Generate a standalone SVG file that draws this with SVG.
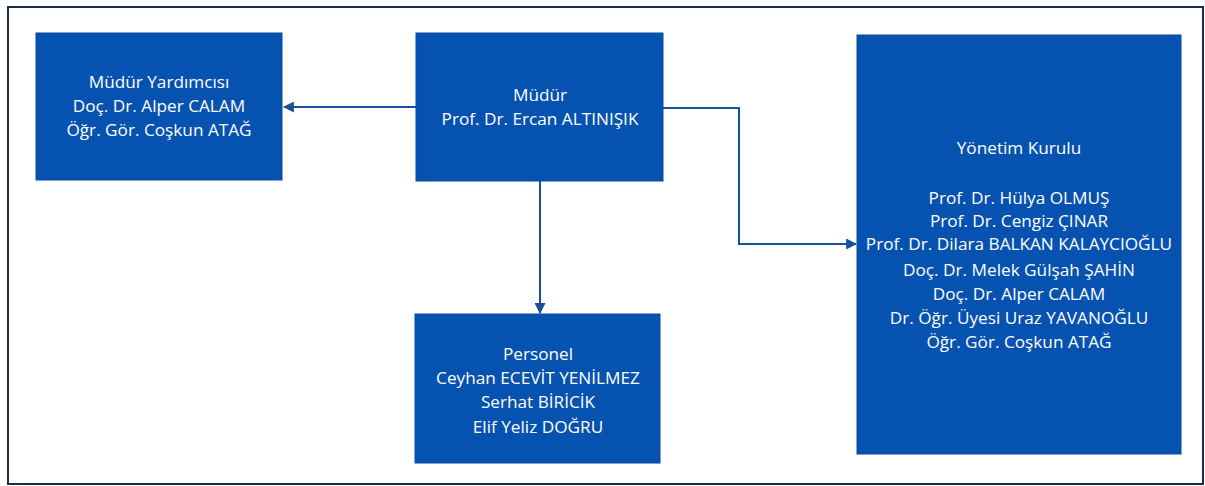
<svg xmlns="http://www.w3.org/2000/svg" width="1205" height="486" viewBox="0 0 1205 486">
<defs>
<style>
.box{fill:#0652B0;stroke:#0a4a9e;stroke-width:1}
.t{font-family:"Open Sans","Liberation Sans",sans-serif;font-size:17.2px;fill:#ffffff;text-anchor:middle}
.c{fill:none;stroke:#1a4f9c;stroke-width:2}
</style>
<marker id="ah" viewBox="0 0 10 10" refX="9" refY="5" markerWidth="5.5" markerHeight="5.5" orient="auto" markerUnits="strokeWidth">
<path d="M0,0 L10,5 L0,10 z" fill="#1a4f9c"/>
</marker>
</defs>
<rect x="0" y="0" width="1205" height="486" fill="#ffffff"/>
<rect x="8" y="7" width="1195" height="477" fill="none" stroke="#1b2a4a" stroke-width="2"/>
<g id="connectors">
<line class="c" x1="416" y1="107" x2="284" y2="107" marker-end="url(#ah)"/>
<line class="c" x1="540" y1="181" x2="540" y2="313" marker-end="url(#ah)"/>
<polyline class="c" points="663,108 739,108 739,244 856,244" marker-end="url(#ah)"/>
</g>
<g id="mudur-yardimcisi">
<rect class="box" x="36" y="33" width="246" height="147"/>
<text class="t" x="159" y="88">Müdür Yardımcısı</text>
<text class="t" x="159" y="112">Doç. Dr. Alper CALAM</text>
<text class="t" x="159" y="136">Öğr. Gör. Coşkun ATAĞ</text>
</g>
<g id="mudur">
<rect class="box" x="416" y="33" width="247" height="148"/>
<text class="t" x="540" y="101">Müdür</text>
<text class="t" x="540" y="125">Prof. Dr. Ercan ALTINIŞIK</text>
</g>
<g id="yonetim-kurulu">
<rect class="box" x="857" y="35" width="324" height="419"/>
<text class="t" x="1019" y="154">Yönetim Kurulu</text>
<text class="t" x="1019" y="204">Prof. Dr. Hülya OLMUŞ</text>
<text class="t" x="1019" y="227">Prof. Dr. Cengiz ÇINAR</text>
<text class="t" x="1019" y="250">Prof. Dr. Dilara BALKAN KALAYCIOĞLU</text>
<text class="t" x="1019" y="276">Doç. Dr. Melek Gülşah ŞAHİN</text>
<text class="t" x="1019" y="300">Doç. Dr. Alper CALAM</text>
<text class="t" x="1019" y="324">Dr. Öğr. Üyesi Uraz YAVANOĞLU</text>
<text class="t" x="1019" y="348">Öğr. Gör. Coşkun ATAĞ</text>
</g>
<g id="personel">
<rect class="box" x="415" y="314" width="245" height="149"/>
<text class="t" x="538" y="360">Personel</text>
<text class="t" x="538" y="384">Ceyhan ECEVİT YENİLMEZ</text>
<text class="t" x="538" y="408">Serhat BİRİCİK</text>
<text class="t" x="538" y="433">Elif Yeliz DOĞRU</text>
</g>
</svg>
